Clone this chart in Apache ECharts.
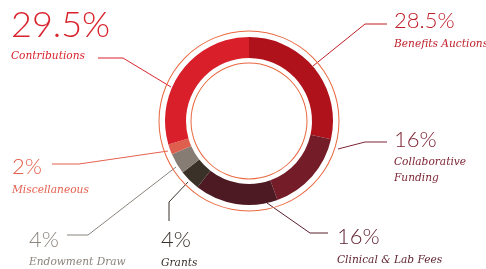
<!DOCTYPE html>
<html>
<head>
<meta charset="utf-8">
<script src="https://cdn.jsdelivr.net/npm/echarts@6/dist/echarts.min.js"></script>
<style>
  html, body { margin: 0; padding: 0; background: #fff; }
  #chart { width: 486px; height: 269px; }
</style>
</head>
<body>
<div id="chart"></div>
<script>
// data, clockwise from 12 o'clock
var categories = ['Benefits Auctions', 'Collaborative\nFunding', 'Clinical & Lab Fees', 'Grants', 'Endowment Draw', 'Miscellaneous', 'Contributions'];
var shares = [28.5, 16, 16, 4, 4, 2, 29.5];

var sliceColors = ['#b0121c', '#741c27', '#4d1922', '#3a3129', '#877c74', '#df5f4f', '#d81f2a'];
var textColors  = ['#bf1e28', '#7d2434', '#5b1e2c', '#38312b', '#8b837c', '#e5604f', '#d9232d'];
// label block top-left, and label line points (ring -> elbow -> end)
var labelPos = [
  { x: 394, y: 6.5, line: [[313, 66], [365, 24], [387, 24]] },
  { x: 394, y: 125, line: [[338, 149], [365, 142], [387, 142]] },
  { x: 337, y: 222.5, line: [[267, 203], [310, 233], [328, 233]] },
  { x: 161, y: 225.5, line: [[188, 182], [169, 202], [169, 221]] },
  { x: 29,  y: 225, line: [[176, 167], [88, 235], [67, 235]] },
  { x: 12,  y: 152.5, line: [[168, 151], [79, 164], [52, 164]] },
  { x: 11,  y: 3,   line: [[171, 87], [123, 58], [98, 58]] }
];

var numFont = 'Lato, "Open Sans", sans-serif';
var nameFont = '"DejaVu Serif Condensed", "DejaVu Serif", serif';

var seriesData = categories.map(function (name, i) {
  var big = i === 6;
  return {
    name: name,
    value: shares[i],
    itemStyle: { color: sliceColors[i] },
    labelLine: { lineStyle: { color: textColors[i], width: 1 } },
    label: {
      rich: {
        p: { fontFamily: numFont, fontWeight: 300, fontSize: big ? 36 : 22, lineHeight: big ? 45 : 29, color: textColors[i] },
        n: { fontFamily: nameFont, fontStyle: 'italic', fontSize: 11.8, lineHeight: 16, color: textColors[i] }
      }
    }
  };
});

var chart = echarts.init(document.getElementById('chart'), null, { renderer: 'canvas' });
chart.setOption({
  animation: false,
  series: [
    {
      type: 'pie',
      center: [249, 121],
      radius: [57.5, 58.5],
      silent: true,
      label: { show: false },
      labelLine: { show: false },
      itemStyle: { color: '#e9683f' },
      data: [1]
    },
    {
      type: 'pie',
      center: [249, 121],
      radius: [89.5, 90.5],
      silent: true,
      label: { show: false },
      labelLine: { show: false },
      itemStyle: { color: '#e9683f' },
      data: [1]
    },
    {
      type: 'pie',
      center: [249, 121],
      radius: [63, 84],
      startAngle: 90,
      clockwise: true,
      avoidLabelOverlap: false,
      label: {
        show: true,
        align: 'left',
        formatter: function (p) {
          var lines = p.name.split('\n').map(function (s) { return '{n|' + s + '}'; });
          return '{p|' + p.value + '%}\n' + lines.join('\n');
        }
      },
      labelLine: { show: true, length: 10, length2: 10 },
      labelLayout: function (params) {
        var pos = labelPos[params.dataIndex];
        return {
          x: pos.x,
          y: pos.y,
          align: 'left',
          verticalAlign: 'top',
          labelLinePoints: pos.line
        };
      },
      data: seriesData
    }
  ]
});
</script>
</body>
</html>
